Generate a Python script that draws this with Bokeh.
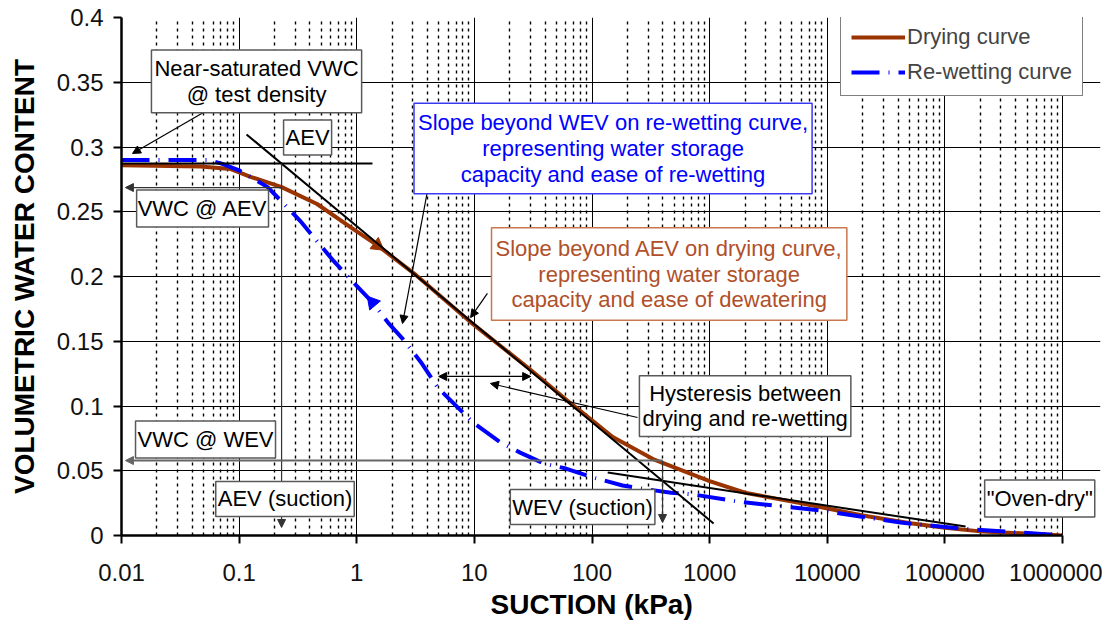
from bokeh.plotting import figure
from bokeh.models import (FixedTicker, Label, Arrow, NormalHead, Legend, LegendItem, Range1d, Title)
from bokeh.embed import file_html
from bokeh.resources import INLINE

# ---------------- data ----------------
drying_x = [0.01, 0.047, 0.085, 0.125, 0.23, 0.46, 0.89, 1.5, 3.2, 9.8, 30, 66, 100, 150,
            330, 1000, 2000, 5900, 20000, 51000, 100000, 210000, 650000, 1000000]
drying_y = [0.286, 0.285, 0.283, 0.277, 0.269, 0.256, 0.238, 0.224, 0.201, 0.163, 0.128, 0.102,
            0.089, 0.076, 0.059, 0.042, 0.033, 0.025, 0.0155, 0.0095, 0.006, 0.003, 0.001, 0.0]

wetting_x = [0.01, 0.055, 0.072, 0.1, 0.175, 0.33, 0.635, 0.84, 1.36, 1.86, 2.45, 3.5, 4.9, 6.5,
             9.8, 16.6, 24.5, 39, 60, 100, 182, 275, 470, 725, 1790, 4700, 8800, 42000,
             134000, 440000, 1000000]
wetting_y = [0.290, 0.290, 0.287, 0.282, 0.269, 0.243, 0.212, 0.200, 0.180, 0.164, 0.152, 0.134,
             0.114, 0.103, 0.087, 0.072, 0.064, 0.0556, 0.0517, 0.045, 0.0386, 0.036, 0.033,
             0.0317, 0.026, 0.022, 0.0193, 0.010, 0.0054, 0.0023, 0.0]

# construction lines
sat_line_x = [0.01, 1.36]
sat_line_y = [0.2873, 0.2873]
aev_tangent_x = [0.1156, 1081]
aev_tangent_y = [0.3097, 0.0093]
res_tangent_x = [136, 150000]
res_tangent_y = [0.0486, 0.0069]
aev_suction = 0.2296
vwc_aev = 0.2687
wev_suction = 398
vwc_wev = 0.0579

x_ticks = [0.01, 0.1, 1.0, 10.0, 100.0, 1000.0, 10000.0, 100000.0, 1000000.0]
x_tick_labels = ["0.01", "0.1", "1", "10", "100", "1000", "10000", "100000", "1000000"]
y_ticks = [0.0, 0.05, 0.1, 0.15, 0.2, 0.25, 0.3, 0.35, 0.4]
y_tick_labels = ["0", "0.05", "0.1", "0.15", "0.2", "0.25", "0.3", "0.35", "0.4"]
x_minor = [k * d for d in x_ticks[:-1] for k in range(2, 10)]

BROWN = "#993300"
BLUE = "#0000FF"
ORANGE_TXT = "#B0502A"
ORANGE_BORDER = "#C8774F"
FONT = "Liberation Sans"

W, H = 1102, 623
LEFT, TOP, BOTTOM, RIGHT = 121, 17, 535, 1100
DECADE_PX = (1062 - LEFT) / 8.0
x_end = 10 ** (-2 + (RIGHT - LEFT) / DECADE_PX)

p = figure(width=W, height=H, x_axis_type="log",
           x_range=Range1d(0.01, x_end), y_range=Range1d(0, 0.4),
           output_backend="svg", toolbar_location=None,
           min_border_left=LEFT, min_border_right=W - RIGHT, min_border_top=TOP,
           min_border_bottom=H - BOTTOM)
p.background_fill_color = "white"
p.border_fill_color = "white"
p.outline_line_color = None

# axes
xt = FixedTicker(ticks=x_ticks, minor_ticks=x_minor)
yt = FixedTicker(ticks=y_ticks)
p.xaxis.ticker = xt
p.yaxis.ticker = yt
p.xgrid.ticker = xt
p.ygrid.ticker = yt
p.xaxis.major_label_overrides = dict(zip(x_ticks, x_tick_labels))
p.yaxis.major_label_overrides = dict(zip(y_ticks, y_tick_labels))
p.xaxis.bounds = (0.01, 1e6)
for ax in (p.xaxis, p.yaxis):
    ax.axis_line_color = "black"
    ax.axis_line_width = 2.5
    ax.major_tick_line_color = "black"
    ax.major_tick_line_width = 2
    ax.major_tick_out = 8
    ax.major_tick_in = 0
    ax.minor_tick_line_color = None
    ax.major_label_text_font = FONT
    ax.major_label_text_font_size = "24px"
    ax.major_label_text_color = "#111111"
    ax.axis_label_text_font = FONT
    ax.axis_label_text_font_style = "bold"
    ax.axis_label_text_font_size = "28px"
    ax.axis_label_text_color = "black"
p.yaxis.axis_label = "VOLUMETRIC WATER CONTENT"
p.xaxis.major_label_standoff = 20
p.yaxis.major_label_standoff = 10
p.yaxis.axis_label_standoff = 14

xtitle = Title(text="SUCTION (kPa)", align="left", offset=369, text_font=FONT,
               text_font_style="bold", text_font_size="28px", text_color="black", standoff=7)
p.add_layout(xtitle, "below")

# grid
p.xgrid.grid_line_color = "black"
p.xgrid.grid_line_width = 1
p.xgrid.bounds = (0, 0.4)
p.ygrid.grid_line_color = "black"
p.ygrid.grid_line_width = 1.2
p.ygrid.bounds = (0.01, 1e6)
p.xgrid.minor_grid_line_color = "black"
p.xgrid.minor_grid_line_width = 1.4
p.xgrid.minor_grid_line_dash = "3 4"

# curves
r_dry = p.line(drying_x, drying_y, line_color=BROWN, line_width=4)
r_wet = p.line(wetting_x, wetting_y, line_color=BLUE, line_width=4, line_dash="28 9 1 9")
p.scatter([drying_x[7]], [drying_y[7]], marker="triangle", size=14, angle=-2.2,
          color=BROWN)
p.scatter([wetting_x[8]], [wetting_y[8]], marker="triangle", size=14, angle=0.7,
          color=BLUE)

# construction lines
p.line(sat_line_x, sat_line_y, line_color="black", line_width=2)
p.line(aev_tangent_x, aev_tangent_y, line_color="black", line_width=2)
p.line(res_tangent_x, res_tangent_y, line_color="black", line_width=2)


def arrow(x0, y0, x1, y1, color="black", width=1.2, both=False):
    head = NormalHead(size=8, fill_color=color, line_color=color, line_width=1)
    start = NormalHead(size=8, fill_color=color, line_color=color, line_width=1) if both else None
    p.add_layout(Arrow(start=start, end=head, x_start=x0, y_start=y0, x_end=x1, y_end=y1,
                       line_color=color, line_width=width))


arrow(aev_suction, sat_line_y[0], aev_suction, 0.0062, color="#333333")
arrow(wev_suction, vwc_wev, wev_suction, 0.010, color="#333333")
arrow(aev_suction, vwc_aev, 0.0108, vwc_aev, color="#333333")
arrow(wev_suction, vwc_wev, 0.0108, vwc_wev, color="#666666", width=1.8)
arrow(0.0497, 0.3266, 0.0124, 0.295)
arrow(4.0, 0.2664, 2.45, 0.1637)
arrow(12.9, 0.1869, 9.29, 0.1683)
arrow(4.97, 0.1228, 30.1, 0.1228, both=True)
arrow(244, 0.0911, 13.7, 0.1174)


def box(x, y, text, pad, color="black", border="#595959", size="22px"):
    p.add_layout(Label(x=x, y=y, text=text, text_align="center", text_baseline="middle",
                       text_font=FONT, text_font_size=size, text_color=color,
                       text_line_height=1.03,
                       background_fill_color="white", border_line_color=border,
                       border_line_width=1.5, padding=pad))


box(0.1406, 0.3506, "Near-saturated VWC\n@ test density", (3, 6))
box(0.382, 0.3073, "AEV", (2, 5))
box(0.0489, 0.2525, "VWC @ AEV", (1, 6))
box(151, 0.2988, "Slope beyond WEV on re-wetting curve,\nrepresenting water storage\ncapacity and ease of re-wetting",
    (4, 7), color=BLUE, border="#3A3AF5")
box(453, 0.2019, "Slope beyond AEV on drying curve,\nrepresenting water storage\ncapacity and ease of dewatering",
    (4, 8), color=ORANGE_TXT, border=ORANGE_BORDER)
box(2004, 0.100, "Hysteresis between\ndrying and re-wetting", (3, 5))
box(0.0518, 0.0741, "VWC @ WEV", (2, 6))
box(0.2455, 0.0282, "AEV (suction)", (2, 5))
box(83.2, 0.022, "WEV (suction)", (2, 5))
box(640000, 0.0286, "\"Oven-dry\"", (2, 6))

legend = Legend(items=[LegendItem(label="Drying curve", renderers=[r_dry]),
                       LegendItem(label="Re-wetting curve", renderers=[r_wet])],
                location=(719, 439), orientation="vertical",
                label_text_font=FONT, label_text_font_size="22px",
                glyph_width=54, glyph_height=20, label_standoff=2, padding=10, spacing=9,
                border_line_color="black", border_line_width=1.5,
                background_fill_color="white", background_fill_alpha=1.0, margin=0)
p.add_layout(legend)

open("out.html", "w").write(file_html(p, INLINE))
